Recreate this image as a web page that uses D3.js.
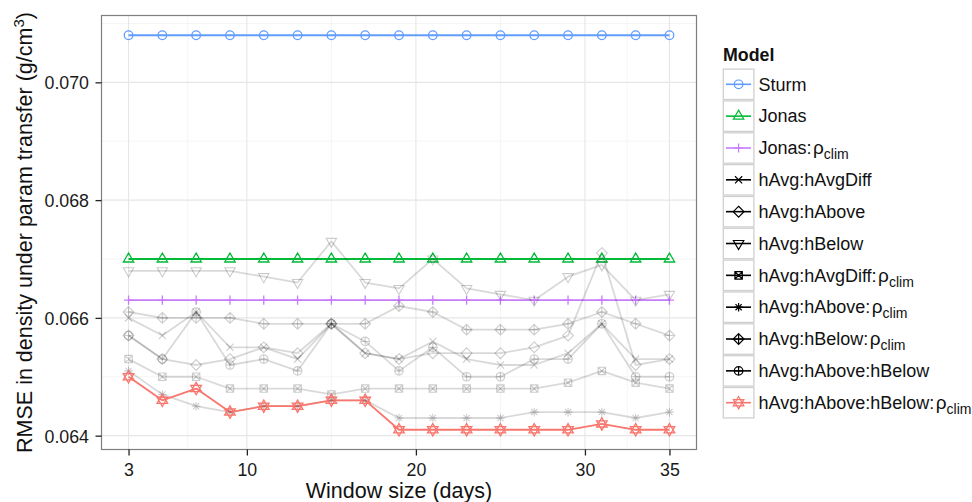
<!DOCTYPE html>
<html><head><meta charset="utf-8">
<script src="https://cdn.jsdelivr.net/npm/d3@7"></script>
<style>body{margin:0;background:#fff}svg{display:block}text{font-family:"Liberation Sans",Arial,Helvetica,sans-serif}</style>
</head><body>
<svg id="chart" width="972" height="502"></svg>
<script>
// ---------- data ----------
const windowSizes = [3,5,7,9,11,13,15,17,19,21,23,25,27,29,31,33,35];
const xTicks = [3,10,20,30,35];
const yTicks = [0.064,0.066,0.068,0.070];
const xMinor = [6.5,15,25,32.5];
const yMinor = [0.065,0.067,0.069,0.071];

const sturm        = [0.0708,0.0708,0.0708,0.0708,0.0708,0.0708,0.0708,0.0708,0.0708,0.0708,0.0708,0.0708,0.0708,0.0708,0.0708,0.0708,0.0708];
const jonas        = [0.0670,0.0670,0.0670,0.0670,0.0670,0.0670,0.0670,0.0670,0.0670,0.0670,0.0670,0.0670,0.0670,0.0670,0.0670,0.0670,0.0670];
const jonasRho     = [0.0663,0.0663,0.0663,0.0663,0.0663,0.0663,0.0663,0.0663,0.0663,0.0663,0.0663,0.0663,0.0663,0.0663,0.0663,0.0663,0.0663];
const hAvgDiff     = [0.0660,0.0657,0.0661,0.0655,0.0655,0.0653,0.0659,0.0654,0.0653,0.0656,0.0653,0.0652,0.0652,0.0654,0.0659,0.0653,0.0653];
const hAbove       = [0.0657,0.0653,0.0652,0.0653,0.0655,0.0654,0.0659,0.0654,0.0653,0.0654,0.0654,0.0654,0.0655,0.0657,0.0671,0.0652,0.0653];
const hBelow       = [0.0668,0.0668,0.0668,0.0668,0.0667,0.0666,0.0673,0.0666,0.0665,0.0670,0.0665,0.0664,0.0663,0.0667,0.0669,0.0663,0.0664];
const hAvgDiffRho  = [0.0653,0.0650,0.0650,0.0648,0.0648,0.0648,0.0647,0.0648,0.0648,0.0648,0.0648,0.0648,0.0648,0.0649,0.0651,0.0649,0.0648];
const hAboveRho    = [0.0651,0.0647,0.0645,0.0644,0.0645,0.0645,0.0646,0.0646,0.0643,0.0643,0.0643,0.0643,0.0644,0.0644,0.0644,0.0643,0.0644];
const hBelowRho    = [0.0661,0.0660,0.0660,0.0660,0.0659,0.0659,0.0659,0.0659,0.0662,0.0661,0.0658,0.0658,0.0658,0.0659,0.0661,0.0659,0.0657];
const hAboveBelow  = [0.0657,0.0653,0.0661,0.0652,0.0653,0.0651,0.0659,0.0656,0.0651,0.0655,0.0650,0.0650,0.0653,0.0653,0.0659,0.0650,0.0650];
const hAboveBelowRho=[0.0650,0.0646,0.0648,0.0644,0.0645,0.0645,0.0646,0.0646,0.0641,0.0641,0.0641,0.0641,0.0641,0.0641,0.0642,0.0641,0.0641];

const modelNames = ["Sturm","Jonas","Jonas:ρclim","hAvg:hAvgDiff","hAvg:hAbove","hAvg:hBelow",
  "hAvg:hAvgDiff:ρclim","hAvg:hAbove:ρclim","hAvg:hBelow:ρclim","hAvg:hAbove:hBelow","hAvg:hAbove:hBelow:ρclim"];
const modelValues = [sturm,jonas,jonasRho,hAvgDiff,hAbove,hBelow,hAvgDiffRho,hAboveRho,hBelowRho,hAboveBelow,hAboveBelowRho];

// ---------- styles ----------
const colors = ["#619CFF","#00BA38","#C77CFF",null,null,null,null,null,null,null,"#F8766D"];
const shapes = ["circle","triUp","plus","cross","diamond","triDown","squareX","asterisk","diamondPlus","circlePlus","star"];

function circ(r){return `M${r},0A${r},${r} 0 1,1 ${-r},0A${r},${r} 0 1,1 ${r},0Z`;}
function shapePath(t){
  switch(t){
    case "circle": return circ(4.3);
    case "triUp": return "M0,-6L5.2,3L-5.2,3Z";
    case "triDown": return "M0,6L5.2,-3L-5.2,-3Z";
    case "plus": return "M-4.6,0H4.6M0,-4.6V4.6";
    case "cross": return "M-3.6,-3.6L3.6,3.6M-3.6,3.6L3.6,-3.6";
    case "diamond": return "M0,-5.4L5.4,0L0,5.4L-5.4,0Z";
    case "squareX": return "M-3.7,-3.7H3.7V3.7H-3.7ZM-3.7,-3.7L3.7,3.7M-3.7,3.7L3.7,-3.7";
    case "asterisk": return "M-4.3,0H4.3M0,-4.3V4.3M-3.1,-3.1L3.1,3.1M-3.1,3.1L3.1,-3.1";
    case "diamondPlus": return "M0,-5.4L5.4,0L0,5.4L-5.4,0ZM-5.4,0H5.4M0,-5.4V5.4";
    case "circlePlus": return circ(4.3)+"M-4.3,0H4.3M0,-4.3V4.3";
    case "star": return "M0,-6.2L5.3,3.1L-5.3,3.1ZM0,6.2L5.3,-3.1L-5.3,-3.1Z";
  }
}

// ---------- layout ----------
const svg = d3.select("#chart");
const P = {l:101.5, r:696.5, t:15.5, b:449.5};
const x = d3.scaleLinear().domain([1.4,36.6]).range([P.l,P.r]);
const y = d3.scaleLinear().domain([0.063765,0.071135]).range([P.b,P.t]);

const clip = svg.append("defs").append("clipPath").attr("id","pc");
clip.append("rect").attr("x",P.l).attr("y",P.t).attr("width",P.r-P.l).attr("height",P.b-P.t);

// grid
const g = svg.append("g");
g.selectAll(".xm").data(xMinor).enter().append("line")
  .attr("x1",d=>x(d)).attr("x2",d=>x(d)).attr("y1",P.t).attr("y2",P.b)
  .attr("stroke","#f5f5f5").attr("stroke-width",1);
g.selectAll(".ym").data(yMinor).enter().append("line")
  .attr("y1",d=>y(d)).attr("y2",d=>y(d)).attr("x1",P.l).attr("x2",P.r)
  .attr("stroke","#f5f5f5").attr("stroke-width",1);
g.selectAll(".xg").data(xTicks).enter().append("line")
  .attr("x1",d=>x(d)).attr("x2",d=>x(d)).attr("y1",P.t).attr("y2",P.b)
  .attr("stroke","#e6e6e6").attr("stroke-width",1.1);
g.selectAll(".yg").data(yTicks).enter().append("line")
  .attr("y1",d=>y(d)).attr("y2",d=>y(d)).attr("x1",P.l).attr("x2",P.r)
  .attr("stroke","#e6e6e6").attr("stroke-width",1.1);

// series
const series = modelNames.map((n,i)=>({name:n, vals:modelValues[i], color:colors[i], shape:shapes[i]}));
const line = d3.line().x((d,i)=>x(windowSizes[i])).y(d=>y(d));
const plot = svg.append("g").attr("clip-path","url(#pc)");
series.forEach(s=>{
  plot.append("path").attr("d",line(s.vals)).attr("fill","none")
    .attr("stroke",s.color||"#000").attr("stroke-opacity",s.color?1:0.15)
    .attr("stroke-width",1.8).attr("stroke-linejoin","round");
});
series.forEach(s=>{
  plot.append("g").selectAll("path").data(s.vals).enter().append("path")
    .attr("transform",(d,i)=>`translate(${x(windowSizes[i])},${y(d)})`)
    .attr("d",shapePath(s.shape)).attr("fill","none")
    .attr("stroke",s.color||"#000").attr("stroke-opacity",s.color?1:0.2)
    .attr("stroke-width",s.color?1.3:1.1);
});

// panel border
svg.append("rect").attr("x",P.l).attr("y",P.t).attr("width",P.r-P.l).attr("height",P.b-P.t)
  .attr("fill","none").attr("stroke","#7f7f7f").attr("stroke-width",1.2);

// axes
const xa = svg.append("g").attr("transform",`translate(0,${P.b})`)
  .call(d3.axisBottom(x).tickValues(xTicks).tickSize(6).tickPadding(6).tickFormat(d3.format("d")));
xa.select(".domain").remove();
xa.selectAll("line").attr("stroke","#222").attr("stroke-width",1.3);
xa.selectAll("text").attr("font-size","17.8px").attr("fill","#1a1a1a")
  .attr("font-family","Liberation Sans, Arial, sans-serif").attr("dy",null).attr("y",26.5);

const ya = svg.append("g").attr("transform",`translate(${P.l},0)`)
  .call(d3.axisLeft(y).tickValues(yTicks).tickSize(6).tickPadding(6.5).tickFormat(d3.format(".3f")));
ya.select(".domain").remove();
ya.selectAll("line").attr("stroke","#222").attr("stroke-width",1.3);
ya.selectAll("text").attr("font-size","17.8px").attr("fill","#1a1a1a")
  .attr("font-family","Liberation Sans, Arial, sans-serif").attr("dy","0.36em");

// axis titles
svg.append("text").attr("x",(P.l+P.r)/2).attr("y",497.5).attr("text-anchor","middle")
  .attr("font-size","21.5px").attr("fill","#111").text("Window size (days)");
const yt = svg.append("text").attr("transform",`translate(31.5,${(P.t+P.b)/2}) rotate(-90)`)
  .attr("text-anchor","middle").attr("font-size","21.5px").attr("fill","#111");
yt.append("tspan").text("RMSE in density under param transfer (g/cm");
yt.append("tspan").attr("font-size","15px").attr("dy","-8").text("3");
yt.append("tspan").attr("dy","8").text(")");

// legend
const L = svg.append("g");
L.append("text").attr("x",723).attr("y",60.7).attr("font-size","17.8px").attr("font-weight","bold")
  .attr("fill","#111").text("Model");
series.forEach((s,i)=>{
  const cy = 84.3 + i*31.84;
  const r = L.append("g");
  r.append("rect").attr("x",723.3).attr("y",cy-15.2).attr("width",30.6).attr("height",30.4)
    .attr("fill","#fff").attr("stroke","#d0d0d0").attr("stroke-width",1.3);
  r.append("line").attr("x1",726).attr("x2",751).attr("y1",cy).attr("y2",cy)
    .attr("stroke",s.color||"#000").attr("stroke-width",1.6);
  r.append("path").attr("transform",`translate(738.6,${cy})`).attr("d",shapePath(s.shape))
    .attr("fill","none").attr("stroke",s.color||"#000").attr("stroke-width",1.2);
  const t = r.append("text").attr("x",758.5).attr("y",cy+6.3).attr("font-size","18px").attr("fill","#111");
  const idx = s.name.indexOf("ρclim");
  if(idx<0){ t.text(s.name); }
  else {
    t.append("tspan").text(s.name.slice(0,idx));
    t.append("tspan").attr("font-size","19px").attr("dx","1.5").text("ρ");
    t.append("tspan").attr("font-size","14px").attr("dy","5").text("clim");
  }
});
</script>
</body></html>
